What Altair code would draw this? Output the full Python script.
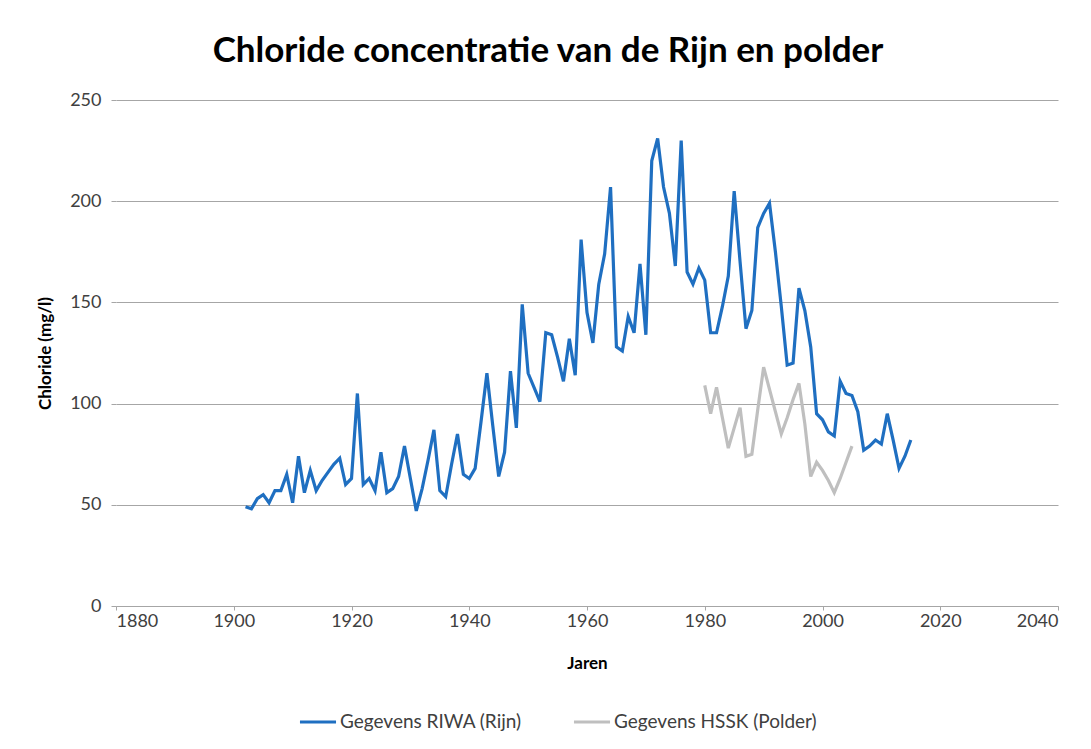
import altair as alt
import pandas as pd

riwa_years = list(range(1902, 2016))
riwa_values = [
    49, 48, 53, 55, 51, 57, 57, 65, 51, 74,   # 1902-1911
    56, 67, 57, 62, 66, 70, 73, 60, 63, 105,  # 1912-1921
    60, 63, 57, 76, 56, 58, 64, 79, 63, 47,   # 1922-1931
    58, 72, 87, 57, 54, 70, 85, 65, 63, 68,   # 1932-1941
    91, 115, 89, 64, 76, 116, 88, 149, 115, 108,  # 1942-1951
    101, 135, 134, 123, 111, 132, 114, 181, 145, 130,  # 1952-1961
    159, 174, 207, 128, 126, 143, 135, 169, 134, 220,  # 1962-1971
    231, 207, 194, 168, 230, 165, 159, 167, 161, 135,  # 1972-1981
    135, 148, 163, 205, 170, 137, 146, 187, 194, 199,  # 1982-1991
    175, 148, 119, 120, 157, 146, 128, 95, 92, 86,     # 1992-2001
    84, 111, 105, 104, 96, 77, 79, 82, 80, 95,         # 2002-2011
    82, 68, 74, 82,                                    # 2012-2015
]

hssk_years = list(range(1980, 2006))
hssk_values = [
    109, 95, 108, 93, 78, 88, 98, 74, 75, 97,   # 1980-1989
    118, 107, 96, 85, 93, 102, 110, 90, 64, 71,  # 1990-1999
    67, 62, 56, 63, 71, 79,                      # 2000-2005
]

series_names = ["Gegevens RIWA (Rijn)", "Gegevens HSSK (Polder)"]
series_colors = ["#1f6fc1", "#bfbfbf"]

x_ticks = [1880, 1900, 1920, 1940, 1960, 1980, 2000, 2020, 2040]
y_ticks = [0, 50, 100, 150, 200, 250]

df = pd.concat([
    pd.DataFrame({"Jaar": riwa_years, "Chloride": riwa_values, "Reeks": series_names[0]}),
    pd.DataFrame({"Jaar": hssk_years, "Chloride": hssk_values, "Reeks": series_names[1]}),
])

FONT = "Lato"

chart = alt.Chart(df).mark_line(strokeWidth=3.2).encode(
    x=alt.X("Jaar:Q",
            scale=alt.Scale(domain=[1880, 2040], nice=False, zero=False),
            axis=alt.Axis(title="Jaren", values=x_ticks, format="d", grid=False,
                          tickSize=4, domainColor="#a6a6a6", tickColor="#a6a6a6",
                          labelPadding=2, titlePadding=25)),
    y=alt.Y("Chloride:Q",
            scale=alt.Scale(domain=[0, 250], nice=False),
            axis=alt.Axis(title="Chloride (mg/l)", values=y_ticks, grid=True,
                          gridColor="#a6a6a6", domain=False, tickSize=5,
                          tickColor="#a6a6a6", labelPadding=10, titlePadding=15)),
    color=alt.Color("Reeks:N",
                    scale=alt.Scale(domain=series_names, range=series_colors),
                    sort=series_names,
                    legend=alt.Legend(title=None, orient="none", direction="horizontal",
                                      legendX=182, legendY=602,
                                      symbolType="stroke", symbolSize=1300,
                                      symbolStrokeWidth=3, columnPadding=45,
                                      labelOffset=2, labelLimit=400)),
    order=alt.Order("Jaar:Q"),
).properties(
    width=942,
    height=506,
    title=alt.TitleParams("Chloride concentratie van de Rijn en polder",
                          fontSize=35, font=FONT, fontWeight="bold", color="#000000",
                          anchor="middle", offset=22, dx=-39),
    autosize=alt.AutoSizeParams(type="none"),
    padding={"left": 108, "top": 92, "right": 25, "bottom": 135},
).configure_view(
    stroke=None
).configure_axis(
    labelFont=FONT, labelFontSize=18, labelColor="#404040",
    titleFont=FONT, titleFontSize=17, titleFontWeight="bold", titleColor="#000000",
).configure_legend(
    labelFont=FONT, labelFontSize=19, labelColor="#404040",
)

chart.save("out.html", embed_options={"renderer": "svg", "actions": False})
